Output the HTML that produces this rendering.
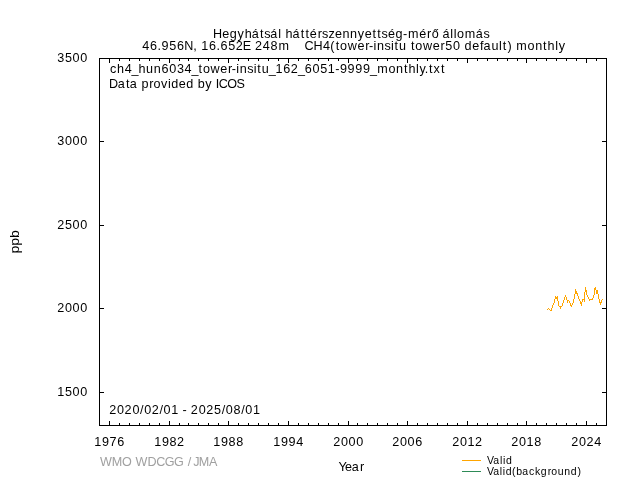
<!DOCTYPE html>
<html><head><meta charset="utf-8"><style>html,body{margin:0;padding:0;background:#fff;width:640px;height:480px;overflow:hidden}svg{display:block;will-change:transform}text{font-family:"Liberation Sans",sans-serif;stroke-width:0.0px}</style></head><body>
<svg width="640" height="480" viewBox="0 0 640 480">
<rect width="640" height="480" fill="#fff"/>
<path d="M99.5 58.5H606.5V425.5H99.5ZM109.5 425v-4M109.5 59v4M119.5 425v-2M119.5 59v2M129.5 425v-2M129.5 59v2M139.5 425v-2M139.5 59v2M149.5 425v-2M149.5 59v2M159.5 425v-2M159.5 59v2M169.5 425v-4M169.5 59v4M179.5 425v-2M179.5 59v2M188.5 425v-2M188.5 59v2M198.5 425v-2M198.5 59v2M208.5 425v-2M208.5 59v2M218.5 425v-2M218.5 59v2M228.5 425v-4M228.5 59v4M238.5 425v-2M238.5 59v2M248.5 425v-2M248.5 59v2M258.5 425v-2M258.5 59v2M268.5 425v-2M268.5 59v2M278.5 425v-2M278.5 59v2M288.5 425v-4M288.5 59v4M298.5 425v-2M298.5 59v2M308.5 425v-2M308.5 59v2M318.5 425v-2M318.5 59v2M328.5 425v-2M328.5 59v2M338.5 425v-2M338.5 59v2M348.5 425v-4M348.5 59v4M357.5 425v-2M357.5 59v2M367.5 425v-2M367.5 59v2M377.5 425v-2M377.5 59v2M387.5 425v-2M387.5 59v2M397.5 425v-2M397.5 59v2M407.5 425v-4M407.5 59v4M417.5 425v-2M417.5 59v2M427.5 425v-2M427.5 59v2M437.5 425v-2M437.5 59v2M447.5 425v-2M447.5 59v2M457.5 425v-2M457.5 59v2M467.5 425v-4M467.5 59v4M477.5 425v-2M477.5 59v2M487.5 425v-2M487.5 59v2M497.5 425v-2M497.5 59v2M507.5 425v-2M507.5 59v2M517.5 425v-2M517.5 59v2M526.5 425v-4M526.5 59v4M536.5 425v-2M536.5 59v2M546.5 425v-2M546.5 59v2M556.5 425v-2M556.5 59v2M566.5 425v-2M566.5 59v2M576.5 425v-2M576.5 59v2M586.5 425v-4M586.5 59v4M596.5 425v-2M596.5 59v2M100 392.5h4M606 392.5h-4M100 308.5h4M606 308.5h-4M100 225.5h4M606 225.5h-4M100 141.5h4M606 141.5h-4" fill="none" stroke="#000" stroke-width="1" shape-rendering="crispEdges"/>
<path d="M547 309h1v1h-1zM548 308h1v1h-1zM549 309h1v1h-1zM550 310h1v1h-1zM551 308h1v3h-1zM552 305h1v3h-1zM553 303h1v2h-1zM554 299h1v4h-1zM555 296h1v3h-1zM556 297h1v2h-1zM557 296h1v5h-1zM558 301h1v5h-1zM559 306h1v1h-1zM560 306h1v3h-1zM561 306h1v1h-1zM562 303h1v3h-1zM563 300h1v3h-1zM564 297h1v3h-1zM565 295h1v2h-1zM566 297h1v3h-1zM567 300h1v3h-1zM568 300h1v1h-1zM569 301h1v2h-1zM570 303h1v3h-1zM571 305h1v2h-1zM572 303h1v2h-1zM573 299h1v4h-1zM574 294h1v5h-1zM575 289h1v5h-1zM576 291h1v3h-1zM577 293h1v3h-1zM578 296h1v3h-1zM579 299h1v2h-1zM580 301h1v3h-1zM581 302h1v4h-1zM582 299h1v3h-1zM583 299h1v1h-1zM584 292h1v10h-1zM585 287h1v5h-1zM586 290h1v5h-1zM587 295h1v2h-1zM588 297h1v2h-1zM589 299h1v2h-1zM590 299h1v1h-1zM591 299h1v1h-1zM592 298h1v2h-1zM593 295h1v3h-1zM594 288h1v7h-1zM595 287h1v3h-1zM596 290h1v4h-1zM597 290h1v4h-1zM598 294h1v5h-1zM599 299h1v4h-1zM600 302h1v3h-1zM601 300h1v3h-1zM602 299h1v1h-1z" fill="#ffa500" shape-rendering="crispEdges"/>
<path d="M462 460.5H481" stroke="#ffa500" stroke-width="1" shape-rendering="crispEdges"/>
<path d="M462 471.5H481" stroke="#2e8b57" stroke-width="1" shape-rendering="crispEdges"/>
<text x="212.99 222.33 229.79 237.62 244.69 251.76 260.01 264.24 270.21 278.15 281.40 285.40 292.47 300.72 305.46 309.85 317.67 322.11 328.40 334.90 342.45 350.12 357.85 364.82 372.60 377.34 381.58 388.03 395.49 402.98 407.93 419.28 427.10 431.63 439.01 442.43 450.37 453.73 457.00 464.87 475.72 483.47" y="38" font-size="12.60" fill="#000" stroke="#000">Hegyhátsál háttérszennyettség-mérő állomás</text>
<text x="142.34 150.03 157.54 161.52 169.19 176.93 184.25 193.36 197.33 201.27 209.03 216.54 220.56 228.20 235.77 242.86 251.09 254.93 262.78 270.47 278.49" y="50" font-size="12.60" fill="#000" stroke="#000">46.956N, 16.652E 248m</text>
<text x="304.62 313.49 322.96 330.28 335.67 340.04 347.66 357.44 365.29 368.96 373.54 376.99 384.41 390.94 394.61 399.09 406.65 410.93 415.30 422.93 432.70 440.55 445.22 452.99 460.54 464.49 472.18 479.93 483.43 491.42 499.09 502.77 507.52 511.85 516.23 527.57 535.15 543.08 547.59 555.22 558.74" y="50" font-size="12.60" fill="#000" stroke="#000">CH4(tower-insitu tower50 default) monthly</text>
<text x="110.04 117.00 124.68 131.58 138.43 146.07 153.80 161.46 169.16 176.88 184.57 191.48 198.58 202.93 210.54 220.29 228.12 231.78 236.35 239.79 247.19 253.70 257.37 261.83 268.75 275.54 283.30 290.85 297.91 304.77 312.47 320.13 327.81 335.32 339.91 347.62 355.32 363.02 369.97 377.16 388.47 396.04 403.95 408.44 416.06 419.57 424.75 429.02 433.58 440.93" y="73" font-size="12.60" fill="#000" stroke="#000">ch4_hun6034_tower-insitu_162_6051-9999_monthly.txt</text>
<text x="109.05 117.87 126.02 129.84 137.58 141.58 149.36 153.57 161.08 168.02 171.27 178.81 186.16 193.66 197.65 205.24 212.06 215.71 218.75 227.32 236.55" y="88" font-size="12.60" fill="#000" stroke="#000">Data provided by ICOS</text>
<text x="109.18 117.02 124.55 132.40 140.03 144.15 151.68 159.47 163.60 171.22 178.80 182.55 187.00 190.85 198.69 206.22 214.02 221.70 225.82 233.51 241.14 245.27 252.89" y="414" font-size="12.60" fill="#000" stroke="#000">2020/02/01 - 2025/08/01</text>
<text x="338.46 344.95 351.84 360.07" y="471" font-size="12.60" fill="#000" stroke="#000">Year</text>
<text x="99.98 111.80 122.04 131.82 135.46 147.43 156.16 164.71 174.01 183.72 187.65 191.57 193.32 198.70 209.02" y="466" font-size="12.60" fill="#a0a0a0" stroke="#a0a0a0">WMO WDCGG / JMA</text>
<text x="487.07 493.24 500.03 502.94 505.89" y="464" font-size="10.50" fill="#000" stroke="#000">Valid</text>
<text x="487.03 493.13 499.87 502.74 505.63 511.90 516.36 522.35 528.92 534.96 540.78 547.63 551.31 557.72 564.32 570.78 577.58" y="475" font-size="10.50" fill="#000" stroke="#000">Valid(background)</text>
<text x="57.25 64.90 72.58 80.21" y="396" font-size="12.60" fill="#000" stroke="#000">1500</text>
<text x="57.15 64.95 72.58 80.21" y="312" font-size="12.60" fill="#000" stroke="#000">2000</text>
<text x="57.15 64.90 72.58 80.21" y="229" font-size="12.60" fill="#000" stroke="#000">2500</text>
<text x="57.33 64.95 72.58 80.21" y="145" font-size="12.60" fill="#000" stroke="#000">3000</text>
<text x="57.33 64.90 72.58 80.21" y="62" font-size="12.60" fill="#000" stroke="#000">3500</text>
<text x="94.25 101.91 109.56 117.22" y="446" font-size="12.60" fill="#000" stroke="#000">1976</text>
<text x="154.25 161.91 169.58 177.06" y="446" font-size="12.60" fill="#000" stroke="#000">1982</text>
<text x="213.25 220.91 228.58 236.21" y="446" font-size="12.60" fill="#000" stroke="#000">1988</text>
<text x="273.25 280.91 288.54 296.21" y="446" font-size="12.60" fill="#000" stroke="#000">1994</text>
<text x="333.15 340.95 348.58 356.21" y="446" font-size="12.60" fill="#000" stroke="#000">2000</text>
<text x="392.15 399.95 407.58 415.22" y="446" font-size="12.60" fill="#000" stroke="#000">2006</text>
<text x="452.15 459.95 467.52 475.06" y="446" font-size="12.60" fill="#000" stroke="#000">2012</text>
<text x="511.15 518.95 526.52 534.21" y="446" font-size="12.60" fill="#000" stroke="#000">2018</text>
<text x="571.15 578.95 586.42 594.21" y="446" font-size="12.60" fill="#000" stroke="#000">2024</text>
<text x="0" y="0" font-size="12.6" text-anchor="middle" textLength="23.3" lengthAdjust="spacingAndGlyphs" fill="#000" stroke="#000" transform="translate(19,241.9) rotate(-90)">ppb</text>
</svg>
</body></html>
